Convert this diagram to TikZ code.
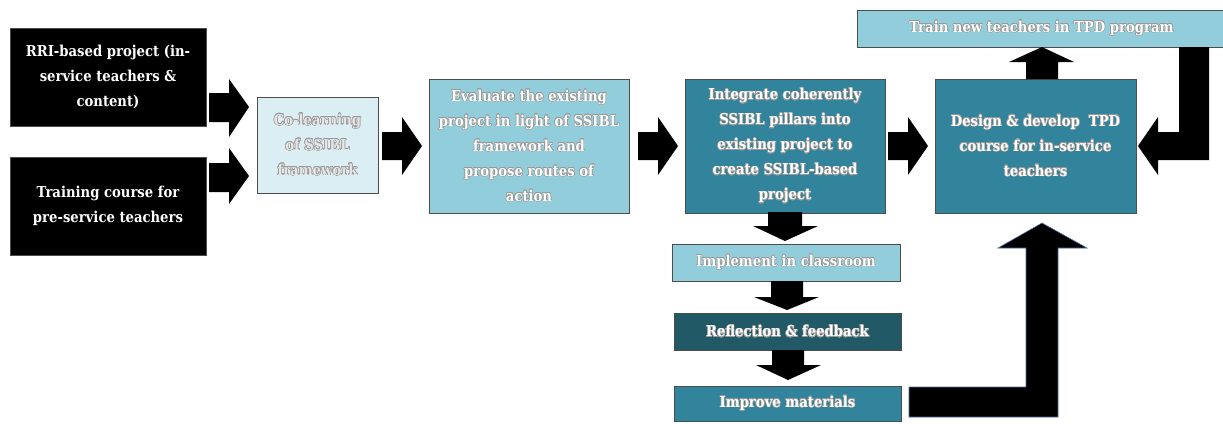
\documentclass[tikz,border=0pt]{standalone}
\usepackage{fontspec}
\usepackage[copies]{contour}
\usetikzlibrary{shadows}
\newfontfamily\boxfont{DejaVu Serif}[FakeStretch=0.88]
\contourlength{0.5pt}
\contournumber{16}
\newcommand\sh[1]{\contour{black!40}{#1}}
\definecolor{paleblue}{HTML}{DBEEF3}
\definecolor{lightblue}{HTML}{92CDDC}
\definecolor{teal}{HTML}{31849B}
\definecolor{darkteal}{HTML}{215967}
\definecolor{edgeblue}{HTML}{4F6EA0}
\tikzset{
  box/.style={draw=black!70, line width=0.8pt, text=white, align=center, inner sep=2pt,
    font={\boxfont\bfseries\fontsize{15}{25}\selectfont},
    drop shadow={shadow xshift=1.2pt, shadow yshift=-1.2pt, opacity=0.35, fill=black}},
  blackbox/.style={box, fill=black},
  palebox/.style={box, fill=paleblue, text=white!90!black},
  lightbox/.style={box, fill=lightblue},
  tealbox/.style={box, fill=teal},
  darkbox/.style={box, fill=darkteal},
  barrow/.style={fill=black},
}
\begin{document}
\begin{tikzpicture}[x=1pt, y=-1pt]
\useasboundingbox (0,0) rectangle (1223,423);
% boxes
\node[blackbox, minimum width=196pt, minimum height=98pt] (rri) at (108,77) {RRI-based project (in-\\service teachers \&\\content)};
\node[blackbox, minimum width=196pt, minimum height=98pt] (pre) at (108,206) {Training course for\\pre-service teachers};
\node[palebox, minimum width=121pt, minimum height=96pt] (colearn) at (317.5,145) {\sh{Co-learning}\\\sh{of SSIBL}\\\sh{framework}};
\node[lightbox, minimum width=200pt, minimum height=134pt] (eval) at (529,146) {\sh{Evaluate the existing}\\\sh{project in light of SSIBL}\\\sh{framework and}\\\sh{propose routes of}\\\sh{action}};
\node[tealbox, minimum width=200pt, minimum height=134pt] (integ) at (785,146) {\sh{Integrate coherently}\\\sh{SSIBL pillars into}\\\sh{existing project to}\\\sh{create SSIBL-based}\\\sh{project}};
\node[tealbox, minimum width=201pt, minimum height=134pt] (design) at (1035.5,146) {\sh{Design \& develop~ TPD}\\\sh{course for in-service}\\\sh{teachers}};
\node[lightbox, minimum width=369pt, minimum height=37pt] (train) at (1041.5,28.5) {\sh{Train new teachers in TPD program}};
\node[lightbox, minimum width=228pt, minimum height=37pt] (impl) at (786,262.5) {\sh{Implement in classroom}};
\node[darkbox, minimum width=227pt, minimum height=37pt] (refl) at (787.5,331.5) {\sh{Reflection \& feedback}};
\node[tealbox, minimum width=227pt, minimum height=35pt] (impr) at (787.5,403.5) {\sh{Improve materials}};
% block arrows (right)
\fill[barrow] (209,93) -- (229,93) -- (229,79) -- (249,107) -- (229,137) -- (229,122) -- (209,122) -- cycle;
\fill[barrow] (209,163) -- (229,163) -- (229,148) -- (249,176) -- (229,204) -- (229,192) -- (209,192) -- cycle;
\fill[barrow] (382,132) -- (402,132) -- (402,117) -- (422,146) -- (402,175) -- (402,160) -- (382,160) -- cycle;
\fill[barrow] (638,132) -- (658,132) -- (658,117) -- (678,146) -- (658,175) -- (658,160) -- (638,160) -- cycle;
\fill[barrow] (888,132) -- (908,132) -- (908,117) -- (928,146) -- (908,175) -- (908,160) -- (888,160) -- cycle;
% up arrow design -> train
\fill[barrow] (1026,79) -- (1026,62) -- (1009,62) -- (1042,47) -- (1074,62) -- (1058,62) -- (1058,79) -- cycle;
% L arrow train -> design
\fill[barrow] (1179,47) -- (1209,47) -- (1209,160) -- (1158,160) -- (1158,175) -- (1138,146) -- (1158,117) -- (1158,132) -- (1179,132) -- cycle;
% down arrows
\fill[barrow] (768,212) -- (802,212) -- (802,226) -- (818,226) -- (785,241) -- (753,226) -- (768,226) -- cycle;
\fill[barrow] (771,281) -- (803,281) -- (803,297) -- (819,297) -- (787,310) -- (754,297) -- (771,297) -- cycle;
\fill[barrow] (772,350) -- (804,350) -- (804,365) -- (821,365) -- (788,380) -- (756,365) -- (772,365) -- cycle;
% big L arrow improve -> design
\filldraw[barrow, draw=edgeblue, line width=0.6pt] (909,387) -- (1026,387) -- (1026,248) -- (998,248) -- (1042,223) -- (1087,248) -- (1058,248) -- (1058,417) -- (909,417) -- cycle;
\end{tikzpicture}
\end{document}
